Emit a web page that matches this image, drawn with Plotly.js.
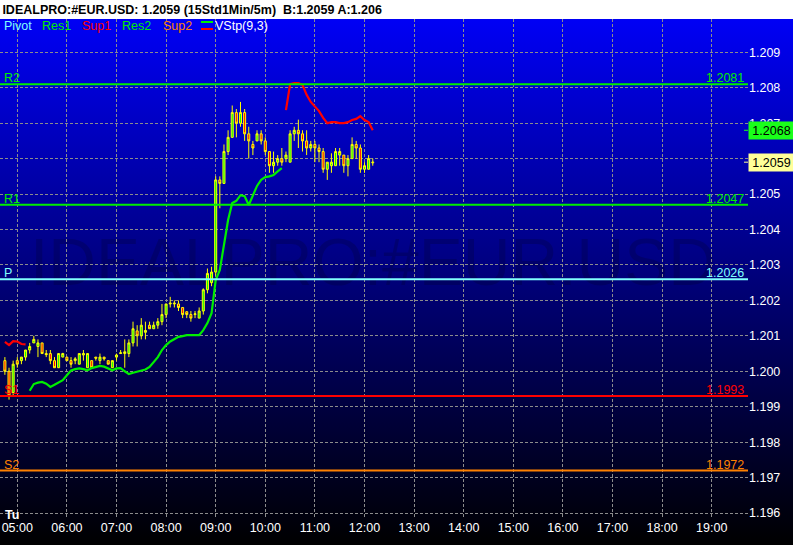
<!DOCTYPE html>
<html>
<head>
<meta charset="utf-8">
<script src="https://cdn.plot.ly/plotly-3.0.1.min.js"></script>
<style>
  html, body { margin: 0; padding: 0; background: #ffffff; width: 793px; height: 548px; overflow: hidden; }
  #bg { position: absolute; left: 0; top: 19px; width: 793px; height: 526px;
        background: linear-gradient(to bottom, rgb(0,0,245) 0%, rgb(0,0,120) 50%, rgb(0,0,0) 100%); overflow: hidden; }
  #wm { position: absolute; left: 30px; top: 210px; font-family: "Liberation Sans", Arial, sans-serif;
        font-size: 66px; line-height: 66px; color: rgba(0,0,0,0.17); white-space: nowrap; }
  #chart { position: absolute; left: 0; top: 0; width: 793px; height: 548px; }
</style>
</head>
<body>
<div id="bg"><div id="wm">IDEALPRO:#EUR.USD</div></div>
<div id="chart"></div>
<script>
// ---------- data ----------
const sessionDate = '2024-01-02';          // a Tuesday ("Tu")
const firstBarMinute = 4 * 60 + 45;        // first 5-minute bar at 04:45
const barMinutes = 5;

const openPrices = [
  1.2003,1.2000,1.1994,1.2003,1.2003,1.2004,1.2006,1.2008,1.2007,1.2008,
  1.2005,1.2005,1.2003,1.2001,1.2004,1.2004,1.2003,1.2003,1.2002,1.20046,
  1.2001,1.2003,1.2004,1.2003,1.2004,1.2003,1.2001,1.2004,1.2005,1.2005,
  1.2005,1.2008,1.20114,1.2010,1.2011,1.2013,1.2012,1.2013,1.2014,1.2016,
  1.2019,1.2019,1.2019,1.2018,1.20168,1.2016,1.2016,1.2015,1.2017,1.2023,
  1.2025,1.2028,1.2054,1.2053,1.2062,1.2066,1.2073,1.2070,1.2073,1.2067,
  1.2064,1.2065,1.2067,1.2065,1.2062,1.2058,1.2059,1.2060,1.2060,1.2059,
  1.2067,1.2068,1.2067,1.2065,1.2063,1.2064,1.2063,1.2062,1.2057,1.2058,
  1.2058,1.2061,1.2061,1.2058,1.2060,1.2064,1.2063,1.2057,1.2057,1.20588
];
const highPrices = [
  1.2004,1.2001,1.2003,1.2004,1.2004,1.2006,1.2008,1.2010,1.2009,1.2008,
  1.2006,1.2006,1.2004,1.2005,1.20052,1.2004,1.2004,1.2004,1.2005,1.2006,
  1.2005,1.2003,1.2004,1.2005,1.2004,1.2003,1.2003,1.2005,1.2006,1.2009,
  1.2009,1.2014,1.2013,1.2015,1.2014,1.2014,1.2014,1.2015,1.2019,1.2019,
  1.2021,1.2020,1.2020,1.2018,1.2017,1.2017,1.2017,1.2018,1.20234,1.2029,
  1.20295,1.2055,1.2055,1.2064,1.2068,1.2075,1.2074,1.2076,1.2074,1.2069,
  1.2065,1.2068,1.2068,1.2066,1.2062,1.2062,1.2061,1.2063,1.2062,1.2068,
  1.2069,1.2071,1.2068,1.2068,1.2065,1.2065,1.2064,1.2063,1.2059,1.20615,
  1.2063,1.2063,1.2061,1.2061,1.2066,1.2065,1.2064,1.2059,1.2061,1.2060
];
const lowPrices = [
  1.1999,1.1992,1.1993,1.2001,1.2002,1.2003,1.2005,1.2008,1.2004,1.2005,
  1.2004,1.2002,1.2001,1.2001,1.2004,1.2003,1.2001,1.2002,1.2002,1.2003,
  1.2001,1.2001,1.2003,1.2002,1.2003,1.2002,1.2001,1.2003,1.2005,1.2001,
  1.2004,1.2007,1.2007,1.2009,1.2009,1.2012,1.2012,1.2012,1.2013,1.2015,
  1.2018,1.2018,1.2017,1.2015,1.2015,1.2014,1.2015,1.2015,1.2016,1.2022,
  1.2024,1.2027,1.2046,1.2053,1.2061,1.2066,1.2066,1.2069,1.2065,1.2060,
  1.2061,1.2065,1.2064,1.2061,1.2056,1.2056,1.2058,1.2058,1.2059,1.2059,
  1.2065,1.2063,1.2062,1.2061,1.2062,1.2059,1.2059,1.2056,1.2054,1.2056,
  1.2058,1.2058,1.2056,1.2055,1.2060,1.2060,1.2056,1.2056,1.2057,1.2058
];
const closePrices = [
  1.2000,1.1993,1.2002,1.2002,1.2004,1.2006,1.2007,1.2009,1.2008,1.2005,
  1.20047,1.2003,1.2001,1.2005,1.2005,1.2003,1.2002,1.20035,1.2005,1.2005,
  1.2005,1.2001,1.20037,1.2004,1.20035,1.2002,1.2003,1.20046,1.20052,1.20055,
  1.2008,1.2012,1.2010,1.2013,1.20115,1.2012,1.2013,1.2014,1.2016,1.2019,
  1.20192,1.20192,1.2018,1.2016,1.2016,1.2015,1.20162,1.2017,1.2023,1.20276,
  1.2028,1.2054,1.2053,1.2062,1.2066,1.2073,1.2070,1.2073,1.2067,1.2065,
  1.2063,1.2067,1.2065,1.2062,1.2058,1.2059,1.2060,1.2059,1.2061,1.2067,
  1.2068,1.2067,1.2065,1.2063,1.2064,1.2063,1.2062,1.2057,1.2059,1.2059,
  1.2062,1.2062,1.2058,1.2060,1.2064,1.2063,1.2057,1.2058,1.2060,1.2059
];
// VStp(9,3): support stop (green) and resistance stop (red), null where not active
const vstpSupport = [
  null,null,null,null,null,null,1.19945,1.19964,1.19968,1.1997,
  1.19965,1.19956,1.19962,1.19968,1.19975,1.19989,1.20002,1.20006,1.20008,1.20006,
  1.20003,1.20009,1.20013,1.20015,1.20013,1.20008,1.20003,1.20008,1.20009,1.2000,
  1.19992,1.19996,1.19999,1.20003,1.20005,1.20012,1.20026,1.2004,1.2006,1.20074,
  1.20084,1.20091,1.20097,1.20099,1.20102,1.20102,1.20102,1.20102,1.20116,1.20136,
  1.20164,1.20257,1.20286,1.20362,1.20427,1.20475,1.20481,1.20497,1.20494,1.20469,
  1.20494,1.20523,1.2054,1.20548,1.2055,1.20554,1.20564,1.20573,null,null,
  null,null,null,null,null,null,null,null,null,null,
  null,null,null,null,null,null,null,null,null,null
];
const vstpResistance = [
  1.20083,1.20074,1.20085,1.20084,1.20077,1.20076,null,null,null,null,
  null,null,null,null,null,null,null,null,null,null,
  null,null,null,null,null,null,null,null,null,null,
  null,null,null,null,null,null,null,null,null,null,
  null,null,null,null,null,null,null,null,null,null,
  null,null,null,null,null,null,null,null,null,null,
  null,null,null,null,null,null,null,null,1.20737,1.2081,
  1.20813,1.20813,1.20808,1.2078,1.2076,1.20746,1.20734,1.20715,1.207,1.20703,
  1.20703,1.207,1.207,1.20703,1.20709,1.20712,1.2072,1.20709,1.20703,1.2068
];

const pivotNames  = ['R2', 'R1', 'P', 'S1', 'S2'];
const pivotValues = [1.2081, 1.2047, 1.2026, 1.1993, 1.1972];
const pivotColors = ['#00ee00', '#00ee00', '#80ffff', '#ff0000', '#ff8000'];

const legendNames  = ['Pivot', 'Res1', 'Sup1', 'Res2', 'Sup2', 'VStp(9,3)'];
const legendColors = ['#80ffff', '#00ee00', '#ff0000', '#00ee00', '#ff8000', '#ffffff'];
const legendLeftPx = [3, 41, 81, 121, 162, 214];

const markerValues = [1.2068, 1.2059];
const markerFills  = ['#1aff1a', '#ffff99'];

const titleText = 'IDEALPRO:#EUR.USD: 1.2059 (15Std1Min/5m)\u00a0\u00a0B:1.2059 A:1.206';
const dayLabel = 'Tu';

// ---------- build ----------
function stamp(minute) {
  const h = Math.floor(minute / 60), m = minute % 60;
  return sessionDate + ' ' + String(h).padStart(2, '0') + ':' + String(m).padStart(2, '0');
}
const barTimes = openPrices.map((_, i) => stamp(firstBarMinute + barMinutes * i));

const FONT = '"Liberation Sans", Arial, sans-serif';
const PLOT_W = 748, PLOT_H = 499, TOP = 19;
const px2x = p => p / PLOT_W;
const px2y = p => 1 - (p - TOP) / PLOT_H;

const traces = [
  {
    type: 'candlestick', x: barTimes,
    open: openPrices, high: highPrices, low: lowPrices, close: closePrices,
    increasing: { line: { color: '#ffff00', width: 1 }, fillcolor: '#00ff00' },
    decreasing: { line: { color: '#ffff00', width: 1 }, fillcolor: '#ff0000' },
    whiskerwidth: 0, hoverinfo: 'skip', showlegend: false
  },
  {
    type: 'scatter', mode: 'lines', x: barTimes, y: vstpSupport,
    line: { color: '#00ee00', width: 2.2 }, connectgaps: false, hoverinfo: 'skip', showlegend: false
  },
  {
    type: 'scatter', mode: 'lines', x: barTimes, y: vstpResistance,
    line: { color: '#ff0000', width: 2.2 }, connectgaps: false, hoverinfo: 'skip', showlegend: false
  }
];

const shapes = [];
const annotations = [];

pivotValues.forEach((v, i) => {
  shapes.push({ type: 'line', xref: 'paper', yref: 'y', x0: 0, x1: 1, y0: v, y1: v,
                line: { color: pivotColors[i], width: 2 } });
  annotations.push({ xref: 'paper', yref: 'y', x: px2x(2), y: v, xanchor: 'left', yanchor: 'bottom',
                     yshift: -3, showarrow: false, text: pivotNames[i],
                     font: { family: FONT, size: 12.5, color: pivotColors[i] } });
  annotations.push({ xref: 'paper', yref: 'y', x: px2x(746), y: v, xanchor: 'right', yanchor: 'bottom',
                     yshift: -3, showarrow: false, text: v.toFixed(4),
                     font: { family: FONT, size: 12.5, color: pivotColors[i] } });
});

legendNames.forEach((n, i) => {
  annotations.push({ xref: 'paper', yref: 'paper', x: px2x(legendLeftPx[i]) , y: px2y(26),
                     xanchor: 'left', yanchor: 'middle', showarrow: false, text: n, borderpad: 0,
                     font: { family: FONT, size: 12.5, color: legendColors[i] } });
});
// VStp legend swatch (green over red)
shapes.push({ type: 'line', xref: 'paper', yref: 'paper', x0: px2x(201), x1: px2x(213), y0: px2y(22), y1: px2y(22),
              line: { color: '#00ee00', width: 2 } });
shapes.push({ type: 'line', xref: 'paper', yref: 'paper', x0: px2x(201), x1: px2x(213), y0: px2y(29), y1: px2y(29),
              line: { color: '#ff0000', width: 2 } });

markerValues.forEach((v, i) => {
  shapes.push({ type: 'line', xref: 'paper', yref: 'y', x0: px2x(744), x1: 1, y0: v, y1: v,
                line: { color: markerFills[i], width: 1 } });
  annotations.push({ xref: 'paper', yref: 'y', x: 1, y: v, xanchor: 'left', yanchor: 'middle',
                     showarrow: false, text: v.toFixed(4), bgcolor: markerFills[i],
                     width: 41, height: 13, borderpad: 2, align: 'center',
                     font: { family: FONT, size: 12.5, color: '#000000' } });
});

annotations.push({ xref: 'paper', yref: 'paper', x: px2x(3), y: 0, xanchor: 'left', yanchor: 'middle',
                   yshift: 3, showarrow: false, text: '<b>' + dayLabel + '</b>',
                   font: { family: FONT, size: 12.5, color: '#ffffff' } });

const gridStyle = { showgrid: true, gridcolor: '#8c8c8c', gridwidth: 1, griddash: '3px,2px',
                    zeroline: false, showline: false, ticks: '' };

const layout = {
  width: 793, height: 548,
  margin: { l: 0, r: 45, t: TOP, b: 548 - TOP - PLOT_H, pad: 0 },
  paper_bgcolor: 'rgba(0,0,0,0)', plot_bgcolor: 'rgba(0,0,0,0)',
  showlegend: false, hovermode: false,
  title: { text: '<b>' + titleText + '</b>', x: 0.003, xanchor: 'left', xref: 'container',
           y: 1 - 9.5 / 548, yanchor: 'middle', yref: 'container',
           font: { family: FONT, size: 12.5, color: '#000000' } },
  xaxis: Object.assign({}, gridStyle, {
    type: 'date', range: [sessionDate + ' 04:39:05', sessionDate + ' 19:43:55'],
    tick0: sessionDate + ' 05:00', dtick: 3600000, tickformat: '%H:%M',
    tickfont: { family: FONT, size: 12.5, color: '#ffffff' },
    rangeslider: { visible: false }, fixedrange: true
  }),
  yaxis: Object.assign({}, gridStyle, {
    side: 'right', range: [1.19586, 1.20994], tick0: 1.196, dtick: 0.001, tickformat: '.3f',
    tickfont: { family: FONT, size: 12.5, color: '#ffffff' }, fixedrange: true
  }),
  shapes: shapes,
  annotations: annotations
};

Plotly.newPlot('chart', traces, layout, { staticPlot: true, displayModeBar: false });
</script>
</body>
</html>
